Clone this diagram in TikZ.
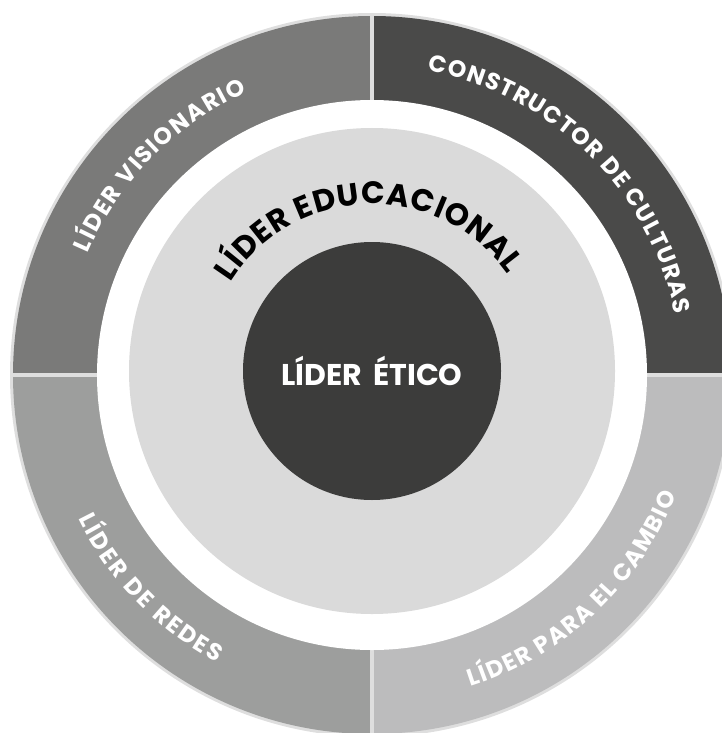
\documentclass[tikz,border=0pt]{standalone}
\usepackage{fontspec}
\setmainfont{Poppins}
\usetikzlibrary{decorations.text}
\definecolor{ulcol}{HTML}{7A7A79}
\definecolor{urcol}{HTML}{4A4A49}
\definecolor{llcol}{HTML}{9D9E9D}
\definecolor{lrcol}{HTML}{BCBCBD}
\definecolor{lightcol}{HTML}{DADADA}
\definecolor{darkcol}{HTML}{3C3C3B}
\definecolor{bordercol}{HTML}{DEDEDE}
\newcommand{\ringfont}{\fontsize{23.5}{23.5}\selectfont\bfseries}
\newcommand{\edufont}{\fontsize{31}{31}\selectfont\bfseries}
\tikzset{
  ringtext/.style={decorate, decoration={text along path, text align={fit to path}, text color=white}},
  edutext/.style={decorate, decoration={text along path, text align={fit to path}, text color=black}},
  divider/.style={draw=bordercol, line width=4pt},
}
\begin{document}
\begin{tikzpicture}[x=1pt,y=1pt]
\useasboundingbox (0,0) rectangle (722,-733);
\clip (0,0) rectangle (722,-733);
\coordinate (c) at (372,-375);
\coordinate (ci) at (372,-371);
% outer ring
\fill[bordercol] (c) circle[radius=362pt];
\fill[urcol] (c) -- ([shift={(0:359pt)}]c) arc[start angle=0,end angle=90,radius=359pt] -- cycle;
\fill[ulcol] (c) -- ([shift={(90:359pt)}]c) arc[start angle=90,end angle=180,radius=359pt] -- cycle;
\fill[llcol] (c) -- ([shift={(180:359pt)}]c) arc[start angle=180,end angle=270,radius=359pt] -- cycle;
\fill[lrcol] (c) -- ([shift={(270:359pt)}]c) arc[start angle=270,end angle=360,radius=359pt] -- cycle;
\coordinate (vt) at ([shift={(90:362pt)}]c);
\coordinate (vb) at ([shift={(270:362pt)}]c);
\coordinate (hl) at ([shift={(180:362pt)}]c);
\coordinate (hr) at ([shift={(0:362pt)}]c);
\path[divider] (vt) -- (vb);
\path[divider] (hl) -- (hr);
% inner discs
\fill[white] (c) circle[radius=275pt];
\fill[lightcol] (ci) circle[radius=243pt];
\fill[darkcol] (ci) circle[radius=129pt];
\node[text=white, font=\fontsize{30}{30}\selectfont\bfseries] (etico) at (ci) {LÍDER\hspace{11pt}ÉTICO};
% ring texts
\path[ringtext, decoration={text={|\ringfont|LÍDER VISIONARIO}}]
  ([shift={(156.8:309pt)}]c) arc[start angle=156.8, end angle=113.9, radius=309pt];
\path[ringtext, decoration={text={|\ringfont|CONSTRUCTOR DE CULTURAS}}]
  ([shift={(79.6:309pt)}]c) arc[start angle=79.6, end angle=11.3, radius=309pt];
\path[ringtext, decoration={text={|\ringfont|LÍDER DE REDES}}]
  ([shift={(206.1:327pt)}]c) arc[start angle=206.1, end angle=241.7, radius=327pt];
\path[ringtext, decoration={text={|\ringfont|LÍDER PARA EL CAMBIO}}]
  ([shift={(287.6:327pt)}]c) arc[start angle=287.6, end angle=338.5, radius=327pt];
% inner curved title
\path[edutext, decoration={text={|\edufont|LÍDER EDUCACIONAL}}]
  ([shift={(148:167pt)}]ci) arc[start angle=148, end angle=35.5, radius=167pt];
\end{tikzpicture}
\end{document}
